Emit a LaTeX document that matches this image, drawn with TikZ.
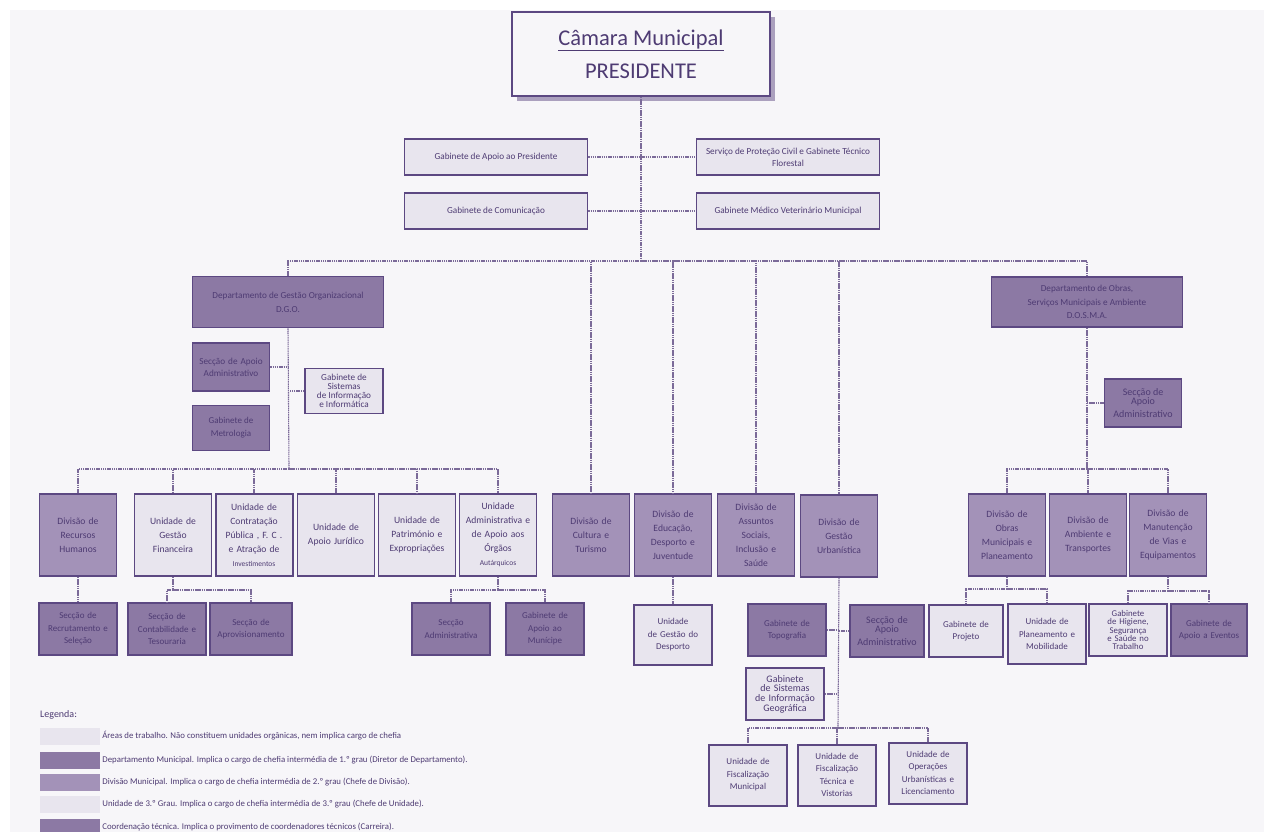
\documentclass[tikz,border=0pt]{standalone}
\usepackage{fontspec}
\setmainfont{Carlito}
\usetikzlibrary{shadows}
\definecolor{bgc}{HTML}{F7F6F9}
\definecolor{edge}{HTML}{5C4882}
\definecolor{ink}{HTML}{4E3B73}
\definecolor{wire}{HTML}{7B6A99}
\definecolor{pale}{HTML}{E8E5EE}
\definecolor{deep}{HTML}{8C79A4}
\definecolor{mid}{HTML}{A392B8}
\definecolor{shade}{HTML}{ABA0BE}
\begin{document}
\begin{tikzpicture}[x=1pt, y=-1pt,
        box/.style={draw=edge, line width=1.6pt, align=center, text=ink, inner sep=1pt},
        pale box/.style={box, fill=pale},
        deep box/.style={box, fill=deep},
        mid box/.style={box, fill=mid},
        wide/.style={minimum width=183pt, minimum height=36pt, font=\fontsize{9.2}{12}\selectfont},
        tall/.style={minimum width=77pt, minimum height=82pt, text width=75pt, font=\fontsize{9.6}{14}\selectfont},
        low/.style={minimum width=78pt, minimum height=52pt, text width=76pt, font=\fontsize{9}{12.5}\selectfont},
        tight/.style={font=\fontsize{9.2}{9.2}\selectfont},
        link/.style={draw=wire, line width=1.1pt, dash pattern=on 1.5pt off 0.7pt},
        swatch/.style={minimum width=60pt, minimum height=17pt, inner sep=0pt},
        note/.style={anchor=west, text=ink, font=\fontsize{8.8}{10}\selectfont, inner sep=2pt}
    ]
    \useasboundingbox (0,0) rectangle (1264,832);
    \clip (0,0) rectangle (1264,832);
    \fill[bgc] (10,10) rectangle (1264,832);

    \node[box, fill=bgc, line width=1.8pt, minimum width=258pt, minimum height=84pt,
        drop shadow={shadow xshift=5pt, shadow yshift=-5pt, fill=shade, opacity=1},
        font=\fontsize{22.5}{33}\selectfont] (Pres) at (641,54) {\underline{Câmara Municipal}\\PRESIDENTE};

    \node[pale box, wide] (GAP) at (496,157) {Gabinete de Apoio ao Presidente};
    \node[pale box, wide] (SPC) at (788,157) {Serviço de Proteção Civil e Gabinete Técnico\\Florestal};
    \node[pale box, wide] (GC) at (496,211) {Gabinete de Comunicação};
    \node[pale box, wide] (GMV) at (788,211) {Gabinete Médico Veterinário Municipal};

    \node[deep box, minimum width=191pt, minimum height=51pt, font=\fontsize{9.2}{14}\selectfont] (DGO) at (288,302) {Departamento de Gestão Organizacional\\D.G.O.};
    \node[deep box, minimum width=77pt, minimum height=48pt, text width=75pt, font=\fontsize{9.2}{12}\selectfont] (SAAG) at (231,367) {Secção de Apoio\\Administrativo};
    \node[pale box, minimum width=78pt, minimum height=45pt, tight] (GSII) at (344,391) {Gabinete de\\Sistemas\\de Informação\\e Informática};
    \node[deep box, minimum width=77pt, minimum height=45pt, font=\fontsize{9}{13}\selectfont] (GM) at (231,428) {Gabinete de\\Metrologia};

    \node[deep box, minimum width=191pt, minimum height=50pt, font=\fontsize{9.2}{13.5}\selectfont] (DOSMA) at (1087,302) {Departamento de Obras,\\Serviços Municipais e Ambiente\\D.O.S.M.A.};
    \node[deep box, minimum width=77pt, minimum height=48pt, font=\fontsize{10}{9.5}\selectfont] (SAAO) at (1143,403) {Secção de\\Apoio\\[3pt]Administrativo};

    \node[mid box, tall] (RH) at (78,535) {Divisão de\\Recursos\\Humanos};
    \node[pale box, tall] (UGF) at (173,535) {Unidade de\\Gestão\\Financeira};
    \node[pale box, tall, line width=2pt] (UCP) at (254,535) {Unidade de\\Contratação\\Pública , F. C .\\e Atração de\\{\fontsize{7.5}{14}\selectfont Investimentos}};
    \node[pale box, tall] (UAJ) at (336,535) {Unidade de\\Apoio Jurídico};
    \node[pale box, tall] (UPE) at (417,535) {Unidade de\\Património e\\Expropriações};
    \node[pale box, tall] (UAA) at (498,535) {Unidade\\Administrativa e\\de Apoio aos\\Órgãos\\{\fontsize{7.5}{14}\selectfont Autárquicos}};
    \node[mid box, tall] (DCT) at (591,535) {Divisão de\\Cultura e\\Turismo};
    \node[mid box, tall] (DEDJ) at (673,535) {Divisão de\\Educação,\\Desporto e\\Juventude};
    \node[mid box, tall] (DAS) at (756,535) {Divisão de\\Assuntos\\Sociais,\\Inclusão e\\Saúde};
    \node[mid box, tall] (DGU) at (839,536) {Divisão de\\Gestão\\Urbanística};
    \node[mid box, tall] (DOMP) at (1007,535) {Divisão de\\Obras\\Municipais e\\Planeamento};
    \node[mid box, tall] (DAT) at (1088,535) {Divisão de\\Ambiente e\\Transportes};
    \node[mid box, tall] (DMVE) at (1168,535) {Divisão de\\Manutenção\\de Vias e\\Equipamentos};

    \node[deep box, low] (SRS) at (78,629) {Secção de\\Recrutamento e\\Seleção};
    \node[deep box, low] (SCT) at (167,629) {Secção de\\Contabilidade e\\Tesouraria};
    \node[deep box, low, minimum width=82pt, text width=80pt] (SAP) at (251,629) {Secção de\\Aprovisionamento};
    \node[deep box, low] (SAD) at (451,629) {Secção\\Administrativa};
    \node[deep box, low] (GAM) at (545,629) {Gabinete de\\Apoio ao\\Munícipe};
    \node[pale box, low, minimum height=60pt, text width=72pt] (UGD) at (673,635) {Unidade\\de Gestão do\\Desporto};
    \node[deep box, low, text width=74pt] (GT) at (787,630) {Gabinete de\\Topografia};
    \node[deep box, low, minimum width=74pt, text width=70pt, font=\fontsize{10}{9.5}\selectfont] (SAAU) at (887,631) {Secção de\\Apoio\\[3pt]Administrativo};
    \node[pale box, low, text width=74pt, font=\fontsize{10}{9.6}\selectfont] (GSIG) at (785,694) {Gabinete\\de Sistemas\\de Informação\\Geográfica};
    \node[pale box, low, minimum height=61pt, line width=2pt] (UFM) at (748,775) {Unidade de\\Fiscalização\\Municipal};
    \node[pale box, low, minimum height=61pt, line width=2pt] (UFT) at (837,775) {Unidade de\\Fiscalização\\Técnica e\\Vistorias};
    \node[pale box, low, minimum height=61pt, line width=2pt] (UOU) at (928,773) {Unidade de\\Operações\\Urbanísticas e\\Licenciamento};
    \node[pale box, low, minimum width=74pt, text width=70pt] (GP) at (966,631) {Gabinete de\\Projeto};
    \node[pale box, low, minimum height=60pt] (UPM) at (1047,634) {Unidade de\\Planeamento e\\Mobilidade};
    \node[pale box, low, text width=74pt, font=\fontsize{8.8}{8.4}\selectfont] (GHS) at (1128,630) {Gabinete\\de Higiene,\\Segurança\\e Saúde no\\Trabalho};
    \node[deep box, low, minimum width=76pt, text width=73pt] (GAE) at (1209,630) {Gabinete de\\Apoio a Eventos};

    \coordinate (busTop) at (641,261);
    \coordinate (busG) at (289,469);
    \coordinate (busO) at (1087,469);
    \coordinate (busF) at (173,590);
    \coordinate (busA) at (498,590);
    \coordinate (busU) at (838,728);
    \coordinate (busP) at (1007,589);
    \coordinate (busM) at (1168,591);

    \draw[link] (Pres.south) -- (busTop);
    \draw[link] (GAP.east) -- (SPC.west);
    \draw[link] (GC.east) -- (GMV.west);
    \draw[link] (busTop) -| (DGO.north) (busTop) -| (DOSMA.north)
        (busTop) -| (DCT.north) (busTop) -| (DEDJ.north)
        (busTop) -| (DAS.north) (busTop) -| (DGU.north);

    \draw[link] (DGO.south) -- (busG);
    \draw[link] (SAAG.east) -- (SAAG.east -| busG);
    \draw[link] (GSII.west) -- (GSII.west -| busG);
    \draw[link] (busG) -| (RH.north) (busG) -| (UGF.north) (busG) -| (UCP.north)
        (busG) -| (UAJ.north) (busG) -| (UPE.north) (busG) -| (UAA.north);

    \draw[link] (DOSMA.south) -- (busO);
    \draw[link] (SAAO.west) -- (SAAO.west -| busO);
    \draw[link] (busO) -| (DOMP.north) (busO) -| (DAT.north) (busO) -| (DMVE.north);

    \draw[link] (RH.south) -- (SRS.north);
    \draw[link] (UGF.south) -- (busF) (busF) -| (SCT.north) (busF) -| (SAP.north);
    \draw[link] (UAA.south) -- (busA) (busA) -| (SAD.north) (busA) -| (GAM.north);
    \draw[link] (DEDJ.south) -- (UGD.north);
    \draw[link] (DGU.south) -- (busU);
    \draw[link] (GT.east) -- (GT.east -| busU);
    \draw[link] (SAAU.west) -- (SAAU.west -| busU);
    \draw[link] (GSIG.east) -- (GSIG.east -| busU);
    \draw[link] (busU) -| (UFM.north) (busU) -| (UFT.north) (busU) -| (UOU.north);
    \draw[link] (DOMP.south) -- (busP) (busP) -| (GP.north) (busP) -| (UPM.north);
    \draw[link] (DMVE.south) -- (busM) (busM) -| (GHS.north) (busM) -| (GAE.north);

    \node[anchor=west, text=ink, inner sep=0pt, font=\fontsize{10}{12}\selectfont] (Leg) at (40,715) {Legenda:};
    \node[swatch, fill=pale] (L1) at (70,736) {};
    \node[swatch, fill=deep] (L2) at (70,760) {};
    \node[swatch, fill=mid] (L3) at (70,782) {};
    \node[swatch, fill=pale] (L4) at (70,804) {};
    \node[swatch, fill=deep] (L5) at (70,827) {};
    \node[note] at (L1.east) {Áreas de trabalho. Não constituem unidades orgânicas, nem implica cargo de chefia};
    \node[note] at (L2.east) {Departamento Municipal. Implica o cargo de chefia intermédia de 1.º grau (Diretor de Departamento).};
    \node[note] at (L3.east) {Divisão Municipal. Implica o cargo de chefia intermédia de 2.º grau (Chefe de Divisão).};
    \node[note] at (L4.east) {Unidade de 3.º Grau. Implica o cargo de chefia intermédia de 3.º grau (Chefe de Unidade).};
    \node[note] at (L5.east) {Coordenação técnica. Implica o provimento de coordenadores técnicos (Carreira).};
\end{tikzpicture}
\end{document}
